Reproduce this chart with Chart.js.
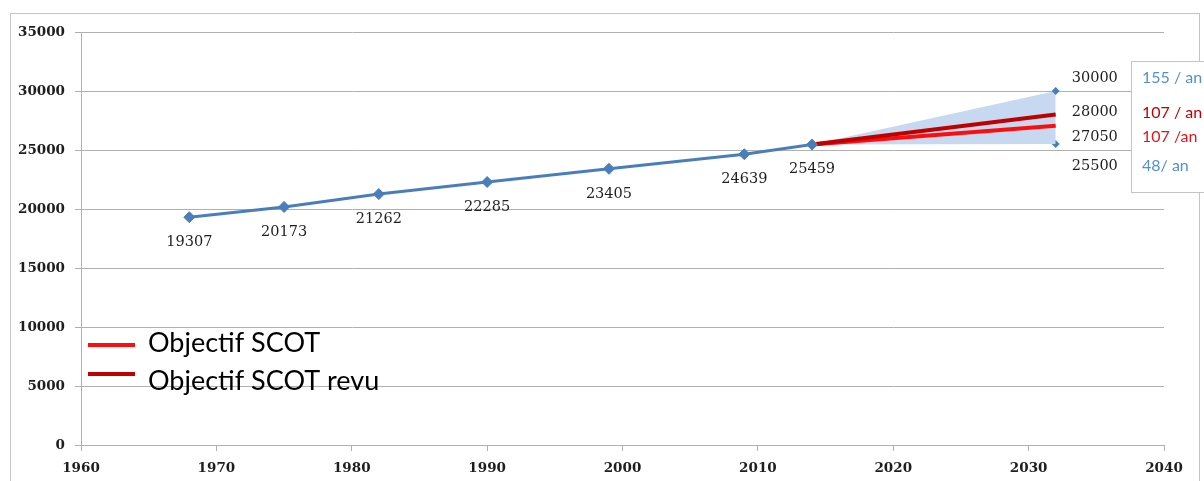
<!DOCTYPE html>
<html>
<head>
<meta charset="utf-8">
<script src="https://cdn.jsdelivr.net/npm/chart.js@4/dist/chart.umd.min.js"></script>
<style>
  html, body { margin: 0; padding: 0; background: #fff; }
  #wrap { width: 1204px; height: 481px; position: relative; }
</style>
</head>
<body>
<div id="wrap"><canvas id="c" width="1204" height="481"></canvas></div>
<script>
// ---- data ----
const years = [1968, 1975, 1982, 1990, 1999, 2009, 2014];
const population = [19307, 20173, 21262, 22285, 23405, 24639, 25459];
const projYears = [2014, 2032];
const scot = [25459, 27050];
const scotRevu = [25459, 28000];
const bandHigh = [25459, 30000];
const bandLow = [25459, 25500];
const endValues = [30000, 28000, 27050, 25500];
const rateLabels = ['155 / an', '107 / an', '107 /an', '48/ an'];
const xTickValues = [1960, 1970, 1980, 1990, 2000, 2010, 2020, 2030, 2040];
const yTickValues = [0, 5000, 10000, 15000, 20000, 25000, 30000, 35000];
const legendLabels = ['Objectif SCOT', 'Objectif SCOT revu'];

// ---- styles ----
const BLUE = '#4a7ebb';
const RED = '#ff0d0d';
const DARKRED = '#c00000';
const BAND = '#c6d9f1';
const GRID = '#b0b0b0';
const TEXT = '#1e1e1e';
const rateColors = ['#558ed5', '#c00000', '#e8141c', '#558ed5'];
const endLabelDy = [-13, -2, 11, 22];
const SERIF = '"DejaVu Serif", "Liberation Serif", serif';

const pts = (xs, ys) => xs.map((x, i) => ({ x: x, y: ys[i] }));

const decor = {
  id: 'decor',
  beforeDraw(chart) {
    const ctx = chart.ctx;
    ctx.save();
    ctx.strokeStyle = '#c4c4c4';
    ctx.lineWidth = 1;
    ctx.strokeRect(10.5, 13.5, 1189, 480);
    ctx.restore();
  },
  afterDatasetsDraw(chart) {
    const ctx = chart.ctx;
    const xs = chart.scales.x, ys = chart.scales.y;
    ctx.save();
    // data labels for historical points
    ctx.font = '14.5px ' + SERIF;
    ctx.fillStyle = TEXT;
    ctx.textAlign = 'center';
    ctx.textBaseline = 'middle';
    years.forEach((yr, i) => {
      ctx.fillText(String(population[i]), xs.getPixelForValue(yr), ys.getPixelForValue(population[i]) + 25);
    });
    // end labels
    ctx.textAlign = 'left';
    const xe = xs.getPixelForValue(projYears[1]) + 16;
    endValues.forEach((v, i) => {
      ctx.fillText(String(v), xe, ys.getPixelForValue(v) + endLabelDy[i]);
    });
    // rate box
    ctx.fillStyle = '#ffffff';
    ctx.fillRect(1131, 61, 80, 131);
    ctx.strokeStyle = '#c4c4c4';
    ctx.lineWidth = 1;
    ctx.strokeRect(1131.5, 61.5, 80, 131);
    ctx.font = '16px Lato, "Open Sans", sans-serif';
    endValues.forEach((v, i) => {
      ctx.fillStyle = rateColors[i];
      ctx.fillText(rateLabels[i], 1142, ys.getPixelForValue(v) + endLabelDy[i]);
    });
    // legend
    const legendSets = [chart.data.datasets[2], chart.data.datasets[1]];
    const ly = [345, 374];
    const ty = [343, 381];
    ctx.font = '27px Lato, "Open Sans", sans-serif';
    ctx.textBaseline = 'middle';
    legendSets.forEach((ds, i) => {
      ctx.strokeStyle = ds.borderColor;
      ctx.lineWidth = 4;
      ctx.beginPath();
      ctx.moveTo(88, ly[i]);
      ctx.lineTo(135, ly[i]);
      ctx.stroke();
      ctx.fillStyle = '#000';
      ctx.fillText(ds.label, 148, ty[i]);
    });
    ctx.restore();
  }
};

new Chart(document.getElementById('c'), {
  type: 'line',
  data: {
    datasets: [
      {
        label: 'Population',
        data: pts(years, population),
        borderColor: BLUE,
        backgroundColor: BLUE,
        borderWidth: 3,
        pointStyle: 'rectRot',
        pointRadius: 5.5,
        pointBackgroundColor: BLUE,
        pointBorderColor: BLUE,
        pointBorderWidth: 1,
        tension: 0
      },
      {
        label: legendLabels[1],
        data: pts(projYears, scotRevu),
        borderColor: DARKRED,
        borderWidth: 4,
        pointRadius: 0
      },
      {
        label: legendLabels[0],
        data: pts(projYears, scot),
        borderColor: RED,
        borderWidth: 4,
        pointRadius: 0
      },
      {
        label: 'Haut',
        data: pts(projYears, bandHigh),
        borderWidth: 0,
        borderColor: 'rgba(0,0,0,0)',
        backgroundColor: BAND,
        fill: '+1',
        pointStyle: 'rectRot',
        pointRadius: c => c.dataIndex === 1 ? 4 : 0,
        pointBackgroundColor: BLUE,
        pointBorderColor: BLUE
      },
      {
        label: 'Bas',
        data: pts(projYears, bandLow),
        borderWidth: 0,
        borderColor: 'rgba(0,0,0,0)',
        backgroundColor: BAND,
        fill: false,
        pointStyle: 'rectRot',
        pointRadius: c => c.dataIndex === 1 ? 4 : 0,
        pointBackgroundColor: BLUE,
        pointBorderColor: BLUE
      }
    ]
  },
  options: {
    responsive: false,
    animation: false,
    layout: { padding: { left: 0, top: 32, right: 40, bottom: 0 } },
    plugins: { legend: { display: false }, tooltip: { enabled: false } },
    scales: {
      x: {
        type: 'linear',
        min: 1960, max: 2040,
        afterFit: s => { s.height = 36; },
        afterBuildTicks: s => { s.ticks = xTickValues.map(v => ({ value: v })); },
        ticks: {
          callback: v => String(v),
          color: TEXT,
          padding: 9,
          maxRotation: 0,
          font: { family: SERIF, size: 13.5, weight: 'bold' }
        },
        grid: { drawOnChartArea: false, drawTicks: true, tickLength: 6, color: GRID },
        border: { color: GRID, width: 1 }
      },
      y: {
        min: 0, max: 35000,
        afterFit: s => { s.width = 81; },
        afterBuildTicks: s => { s.ticks = yTickValues.map(v => ({ value: v })); },
        ticks: {
          callback: v => String(v),
          color: TEXT,
          padding: 10,
          font: { family: SERIF, size: 13.5, weight: 'bold' }
        },
        grid: { color: GRID, tickLength: 6, drawTicks: true },
        border: { color: GRID, width: 1 }
      }
    }
  },
  plugins: [decor]
});
</script>
</body>
</html>
